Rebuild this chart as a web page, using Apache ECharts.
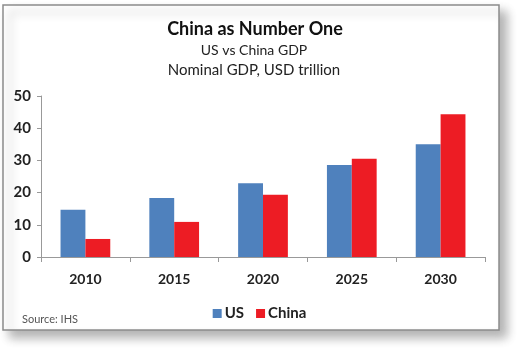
<!DOCTYPE html>
<html><head><meta charset="utf-8">
<script src="https://cdn.jsdelivr.net/npm/echarts@6/dist/echarts.min.js"></script>
<style>html,body{margin:0;padding:0;background:#fff}#c{width:519px;height:354px}</style>
</head><body><div id="c"></div>
<script>
const categories = ['2010','2015','2020','2025','2030'];
const usValues = [14.7, 18.3, 22.9, 28.6, 35.0];
const chinaValues = [5.6, 10.9, 19.3, 30.5, 44.3];
const yTicks = [0, 10, 20, 30, 40, 50];

const chart = echarts.init(document.getElementById('c'), null, {renderer:'canvas'});
const font = 'Lato, "Open Sans", sans-serif';
chart.setOption({
  backgroundColor: '#fff',
  animation: false,
  textStyle: {fontFamily: font},
  graphic: [
    {type:'rect', shape:{x:3, y:5, width:496, height:325}, z:-10,
     style:{fill:'#fff', stroke:'#8c8c8c', lineWidth:1.5, shadowBlur:10, shadowOffsetX:7, shadowOffsetY:7, shadowColor:'rgba(0,0,0,0.3)'}},
    {type:'text', left:22, top:314, style:{text:'Source: IHS', fontSize:11, fill:'#555', fontFamily:font}}
  ],
  title: [
    {text:'China as Number One', left:250, textAlign:'center', top:15, textStyle:{fontSize:18, fontWeight:'bold', color:'#111', fontFamily:font}},
    {text:'US vs China GDP', left:249, textAlign:'center', top:38, textStyle:{fontSize:14, fontWeight:'normal', color:'#222', fontFamily:font}},
    {text:'Nominal GDP, USD trillion', left:249, textAlign:'center', top:58, textStyle:{fontSize:15, fontWeight:'normal', color:'#222', fontFamily:font}}
  ],
  legend: {
    data:['US','China'], left:'center', top:301, itemWidth:9, itemHeight:9, itemGap:12,
    icon:'rect', textStyle:{fontSize:15, fontWeight:'bold', color:'#222', fontFamily:font, padding:[0,0,0,-2]}
  },
  grid: {left:41, right:34, top:96, bottom:97, containLabel:false},
  xAxis: {
    type:'category', data:categories,
    axisLine:{lineStyle:{color:'#999'}},
    axisTick:{show:true, alignWithLabel:false, length:5, lineStyle:{color:'#999'}},
    axisLabel:{fontSize:14, fontWeight:'bold', color:'#222', margin:15, fontFamily:font}
  },
  yAxis: {
    type:'value', min:yTicks[0], max:yTicks[yTicks.length-1], interval:10,
    splitLine:{show:false},
    axisLine:{show:true, lineStyle:{color:'#999'}},
    axisTick:{show:true, length:4, lineStyle:{color:'#999'}},
    axisLabel:{fontSize:15, fontWeight:'bold', color:'#222', margin:10, fontFamily:font}
  },
  series: [
    {name:'US', type:'bar', data:usValues, barGap:'0%', barCategoryGap:'44%', itemStyle:{color:'#4F81BD'}},
    {name:'China', type:'bar', data:chinaValues, barGap:'0%', barCategoryGap:'44%', itemStyle:{color:'#ED1C24'}}
  ]
});
</script></body></html>
